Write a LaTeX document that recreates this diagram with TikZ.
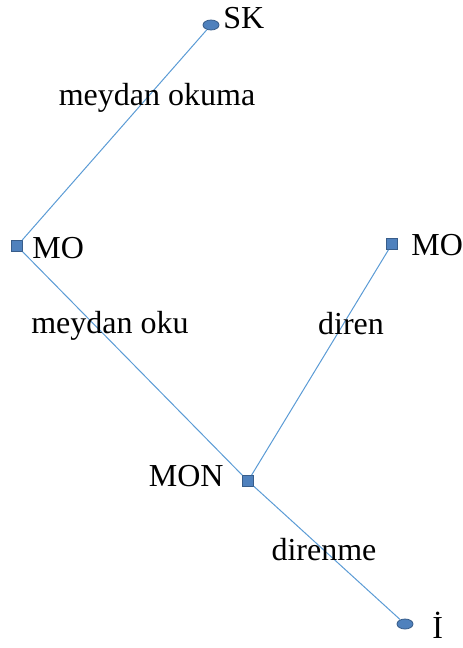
\documentclass[tikz,border=0pt]{standalone}
\usepackage{fontspec}
\setmainfont{Liberation Serif}
\usetikzlibrary{shapes.geometric}
\definecolor{edgeblue}{RGB}{91,155,213}
\definecolor{markfill}{RGB}{79,129,189}
\definecolor{markline}{RGB}{56,93,138}
\begin{document}
\begin{tikzpicture}[x=0.5pt, y=-0.5pt,
	dot/.style={draw=markline, fill=markfill, ellipse, line width=0.4pt, minimum width=8pt, minimum height=5pt, inner sep=0pt},
	sq/.style={draw=markline, fill=markfill, rectangle, line width=0.4pt, minimum size=5.5pt, inner sep=0pt},
	link/.style={draw=edgeblue, line width=0.5pt},
	txt/.style={inner sep=0pt, font=\fontsize{16}{19}\selectfont}]
	\useasboundingbox (0,0) rectangle (462,648);
	
	% Markers
	\node (sk) at (211,25) [dot] {};
	\node (mo 1) at (17,246) [sq] {};
	\node (mo 2) at (392,244) [sq] {};
	\node (mon) at (248,481) [sq] {};
	\node (i) at (405,624) [dot] {};
	
	% Connectors
	\draw [link] (mo 1) to (sk);
	\draw [link] (mo 1) to (mon);
	\draw [link] (mon) to (mo 2);
	\draw [link] (mon) to (i);
	
	% State names
	\node (sk text) at (223,28) [txt, anchor=base west] {SK};
	\node (mo 1 text) at (32,258) [txt, anchor=base west] {MO};
	\node (mo 2 text) at (411,255) [txt, anchor=base west] {MO};
	\node (mon text) at (224,486) [txt, anchor=base east] {MON};
	\node (i text) at (432,638) [txt, anchor=base west] {İ};
	
	% Edge labels
	\node (l1) at (157,105) [txt, anchor=base] {meydan okuma};
	\node (l2) at (110,333) [txt, anchor=base] {meydan oku};
	\node (l3) at (351,334) [txt, anchor=base] {diren};
	\node (l4) at (324,560) [txt, anchor=base] {direnme};
	
\end{tikzpicture}
\end{document}
